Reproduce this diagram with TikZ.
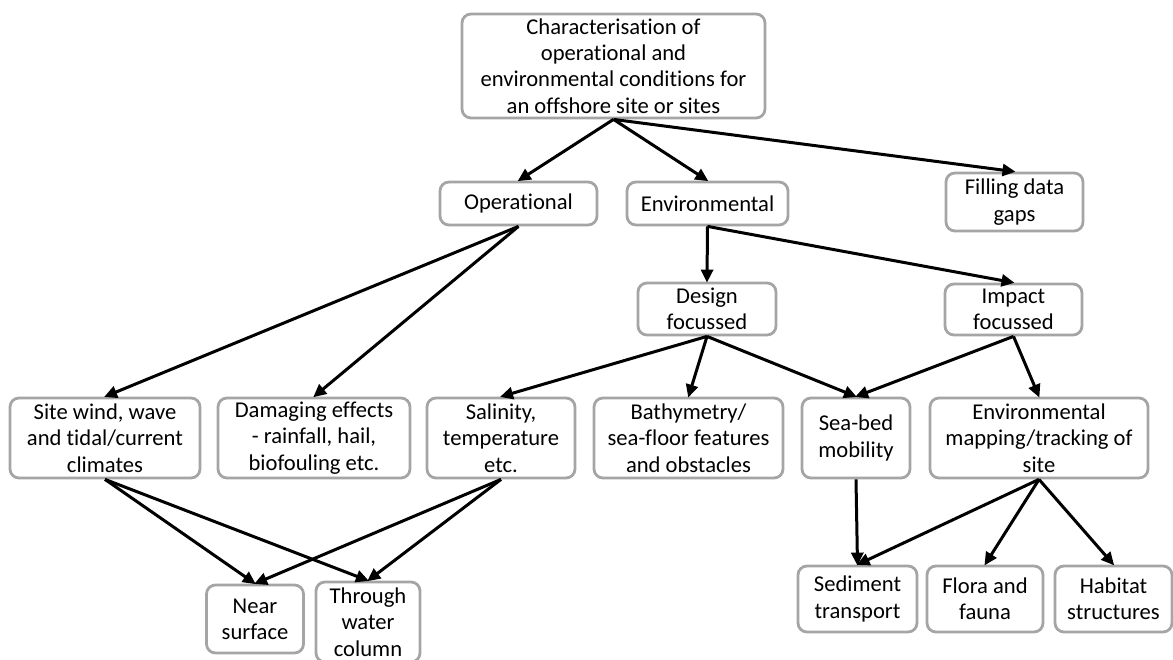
\documentclass[tikz,border=0pt]{standalone}
\usepackage{fontspec}
\setmainfont[Ligatures={NoCommon}]{Carlito}
\usetikzlibrary{arrows.meta}
\definecolor{boxgray}{RGB}{165,165,165}
\tikzset{
  box/.style={draw=boxgray, line width=2.8pt, rounded corners=9pt, align=center,
    inner sep=0pt, font=\fontsize{22.6}{26.3}\selectfont, text=black},
  arr/.style={line width=3pt, -{Triangle[length=13pt,width=12pt]}, shorten >=-1pt}
}
\begin{document}
\begin{tikzpicture}[x=1pt,y=-1pt]
\useasboundingbox (0,0) rectangle (1173,660);
\node[box, minimum width=303pt, minimum height=104pt] (top) at (613.5,66)
  {Characterisation of\\operational and\\environmental conditions for\\an offshore site or sites};
\node[box, minimum width=157pt, minimum height=43pt] (oper) at (518.5,203.5) {Operational};
\node[box, minimum width=161pt, minimum height=43pt] (env) at (707.5,203.5) {Environmental};
\node[box, minimum width=137pt, minimum height=58pt] (fill) at (1014.5,202) {Filling data\\gaps};
\node[box, minimum width=138pt, minimum height=52pt] (design) at (707,309) {Design\\focussed};
\node[box, minimum width=137pt, minimum height=51pt] (impact) at (1013.5,309.5) {Impact\\focussed};
\node[box, minimum width=190pt, minimum height=80pt] (site) at (105,438) {Site wind, wave\\and tidal/current\\climates};
\node[box, minimum width=192pt, minimum height=80pt] (damage) at (314,438) {Damaging effects\\- rainfall, hail,\\biofouling etc.};
\node[box, minimum width=148pt, minimum height=80pt] (salin) at (501,438) {Salinity,\\temperature\\etc.};
\node[box, minimum width=189pt, minimum height=80pt] (bathy) at (688.5,438) {Bathymetry/\\sea-floor features\\and obstacles};
\node[box, minimum width=108pt, minimum height=80pt] (seabed) at (856,438) {Sea-bed\\mobility};
\node[box, minimum width=218pt, minimum height=80pt] (envmap) at (1039,438) {Environmental\\mapping/tracking of\\site};
\node[box, minimum width=97pt, minimum height=68pt] (near) at (255,619) {Near\\surface};
\node[box, minimum width=104pt, minimum height=80pt] (through) at (368,622) {Through\\water\\column};
\node[box, minimum width=119pt, minimum height=66pt] (sediment) at (857.5,599) {Sediment\\transport};
\node[box, minimum width=116pt, minimum height=66pt] (flora) at (985,599) {Flora and\\fauna};
\node[box, minimum width=117pt, minimum height=66pt] (habitat) at (1113.5,599) {Habitat\\structures};

\draw[arr] (top.south) -- (oper.north);
\draw[arr] (top.south) -- (env.north);
\draw[arr] (top.south) -- (fill.north);
\draw[arr] (oper.south) -- (site.north);
\draw[arr] (oper.south) -- (damage.north);
\draw[arr] (env.south) -- (design.north);
\draw[arr] (env.south) -- (impact.north);
\draw[arr] (design.south) -- (salin.north);
\draw[arr] (design.south) -- (bathy.north);
\draw[arr] (design.south) -- (seabed.north);
\draw[arr] (impact.south) -- (seabed.north);
\draw[arr] (impact.south) -- (envmap.north);
\draw[arr] (site.south) -- (near.north);
\draw[arr] (site.south) -- (through.north);
\draw[arr] (salin.south) -- (near.north);
\draw[arr] (salin.south) -- (through.north);
\draw[arr] (seabed.south) -- (sediment.north);
\draw[arr] (envmap.south) -- (sediment.north);
\draw[arr] (envmap.south) -- (flora.north);
\draw[arr] (envmap.south) -- (habitat.north);
\end{tikzpicture}
\end{document}
